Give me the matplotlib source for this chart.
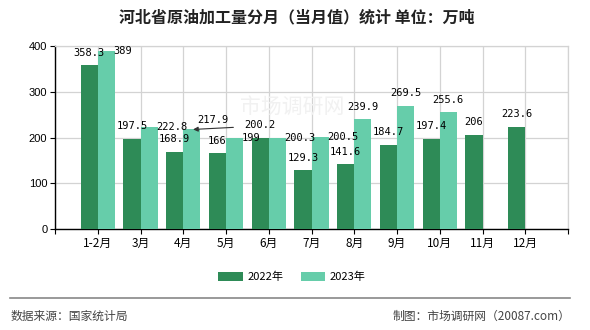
import numpy as np
import matplotlib

matplotlib.use("Agg")
import matplotlib.pyplot as plt

plt.rcParams["font.family"] = ["Noto Sans CJK SC", "DejaVu Sans"]

months = ["1-2月", "3月", "4月", "5月", "6月", "7月", "8月", "9月", "10月", "11月", "12月"]
v2022 = [358.3, 197.5, 168.9, 166, 200.2, 129.3, 141.6, 184.7, 197.4, 206, 223.6]
v2023 = [389, 222.8, 217.9, 199, 200.3, 200.5, 239.9, 269.5, 255.6]

# where the 2023 value labels sit (the source chart pushed some aside)
pos2023 = ["right", "right", "arrow", "right", "right", "right", "top", "top", "top"]

C22 = "#2e8b57"
C23 = "#66cdaa"
W = 0.4
lab_font = dict(family="DejaVu Sans Mono", fontsize=7.5, color="black")

fig = plt.figure(figsize=(5.9, 3.3), dpi=100)
ax = fig.add_axes([55 / 590, 1 - 229.3 / 330, 513 / 590, 183.3 / 330])

x = np.arange(len(months))
x23 = np.arange(len(v2023))
ax.bar(x - W / 2, v2022, W, color=C22, zorder=3, label="2022年")
ax.bar(x23 + W / 2, v2023, W, color=C23, zorder=3, label="2023年")

for xi, v in zip(x, v2022):
    ax.annotate(f"{v:g}", (xi - W / 2, v), xytext=(0, 9), textcoords="offset points",
                ha="center", va="center", zorder=5, **lab_font)

for xi, v, p in zip(x23, v2023, pos2023):
    if p == "top":
        ax.annotate(f"{v:g}", (xi + W / 2, v), xytext=(0, 9), textcoords="offset points",
                    ha="center", va="center", zorder=5, **lab_font)
    elif p == "right":
        ax.annotate(f"{v:g}", (xi + W, v), xytext=(-1, 0), textcoords="offset points",
                    ha="left", va="center", zorder=5, **lab_font)
    else:
        ax.annotate("", (xi + W / 2 + 0.03, v), xytext=(29, 1.5), textcoords="offset points",
                    arrowprops=dict(arrowstyle="-|>", color="#333333", lw=0.8,
                                    mutation_scale=7, shrinkA=0, shrinkB=0), zorder=5)
        ax.annotate(f"{v:g}", (xi + W / 2, v), xytext=(15.5, 6.5), textcoords="offset points",
                    ha="center", va="center", zorder=5, **lab_font)

# faint site watermark
ax.text(0.462, 0.667, "市场调研网", transform=ax.transAxes, fontsize=15, color="#f1f1f1",
        ha="center", va="center", zorder=1)

ax.set_xlim(-1, 11)
ax.set_ylim(0, 400)
ax.set_xticks(np.arange(-1, 12))
ax.set_xticklabels([""] + months + [""], fontsize=8.5)
ax.set_yticks([0, 100, 200, 300, 400])
ax.set_yticklabels(["0", "100", "200", "300", "400"], fontsize=8, family="Liberation Sans")
ax.tick_params(axis="both", length=3.5, width=0.8, direction="out", pad=2)
ax.grid(True, color="#d3d3d3", lw=0.9, zorder=0)
ax.set_axisbelow(True)
for s in ["top", "right"]:
    ax.spines[s].set_color("#d3d3d3")
    ax.spines[s].set_linewidth(0.9)
for s in ["left", "bottom"]:
    ax.spines[s].set_color("black")
    ax.spines[s].set_linewidth(1.0)

fig.text(297 / 590, 1 - 17 / 330, "河北省原油加工量分月（当月值）统计 单位：万吨",
         ha="center", va="center", fontsize=11.5, fontweight="bold", color="#222222")

fig.legend(loc="center", bbox_to_anchor=(292 / 590, 1 - 277 / 330), ncol=2, frameon=False,
           fontsize=8, handlelength=2.2, handleheight=0.9, handletextpad=0.4, columnspacing=1.6)

fig.add_artist(plt.Line2D([10 / 590, 570 / 590], [1 - 297.7 / 330] * 2, color="#888888", lw=1.2))
fig.text(11 / 590, 1 - 316 / 330, "数据来源：国家统计局", ha="left", va="center",
         fontsize=8.5, color="#444444")
fig.text(570 / 590, 1 - 316 / 330, "制图：市场调研网（20087.com）", ha="right", va="center",
         fontsize=8.5, color="#444444")

fig.savefig("out.png", dpi=100)
